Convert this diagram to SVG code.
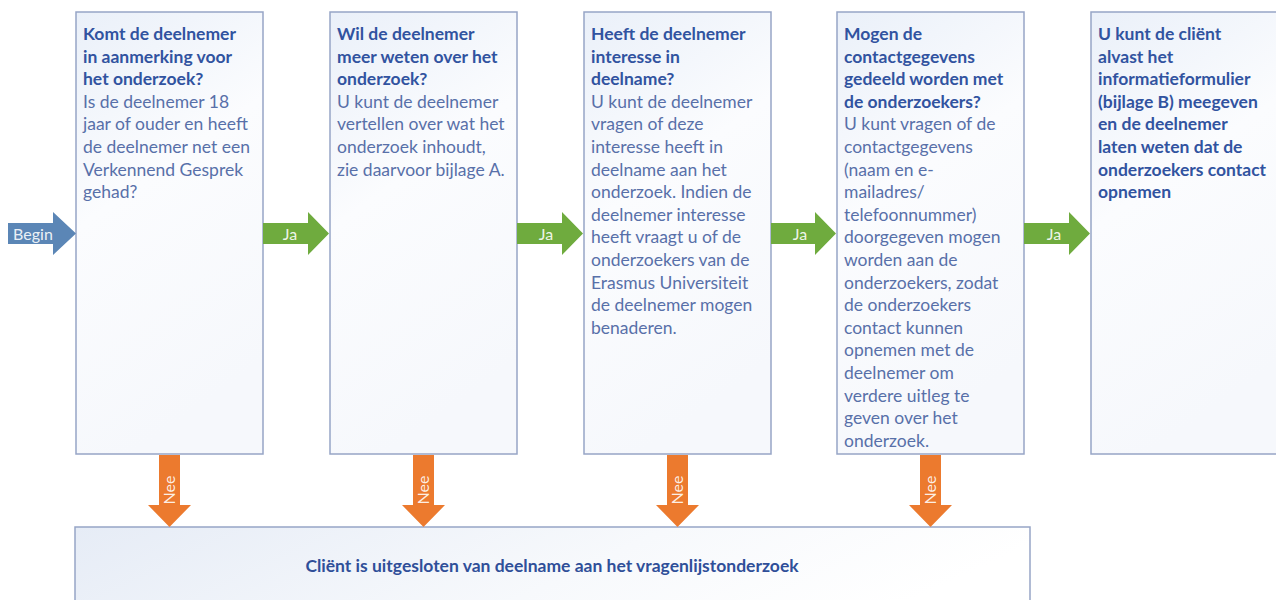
<svg xmlns="http://www.w3.org/2000/svg" width="1276" height="600" viewBox="0 0 1276 600">
<defs>
<linearGradient id="boxFill" x1="0" y1="0" x2="0.3" y2="1">
<stop offset="0" stop-color="#eaf0f9"/>
<stop offset="0.45" stop-color="#fbfcfe"/>
<stop offset="1" stop-color="#f6f8fc"/>
</linearGradient>
<linearGradient id="bottomFill" x1="0" y1="0" x2="1" y2="0.2">
<stop offset="0" stop-color="#e6ecf6"/>
<stop offset="0.6" stop-color="#f7f9fc"/>
<stop offset="1" stop-color="#ffffff"/>
</linearGradient>
<style>
.box{fill:url(#boxFill);stroke:#97a5c6;stroke-width:1.5}
.bottom{fill:url(#bottomFill);stroke:#97a5c6;stroke-width:1.5}
text{font-family:Lato,"Liberation Sans",sans-serif;font-size:17.5px}
.h{font-weight:bold;fill:#3153a0}
.b{fill:#5870a9}
.begin{fill:#5b86b6}
.ja{fill:#6fab3e}
.nee{fill:#ec7a2e}
.lbl{fill:#ffffff;font-size:16px;fill-opacity:0.9}
.main{font-weight:bold;fill:#2f4f99;font-size:17.5px}
</style>
</defs>
<rect width="1276" height="600" fill="#ffffff"/>

<g id="node1">
<rect class="box" x="76" y="12" width="187" height="442"/>
<text x="83" y="40">
<tspan class="h" x="83">Komt de deelnemer</tspan>
<tspan class="h" x="83" dy="22.6">in aanmerking voor</tspan>
<tspan class="h" x="83" dy="22.6">het onderzoek?</tspan>
<tspan class="b" x="83" dy="22.6">Is de deelnemer 18</tspan>
<tspan class="b" x="83" dy="22.6">jaar of ouder en heeft</tspan>
<tspan class="b" x="83" dy="22.6">de deelnemer net een</tspan>
<tspan class="b" x="83" dy="22.6">Verkennend Gesprek</tspan>
<tspan class="b" x="83" dy="22.6">gehad?</tspan>
</text>
</g>

<g id="node2">
<rect class="box" x="330" y="12" width="187" height="442"/>
<text x="337" y="40">
<tspan class="h" x="337">Wil de deelnemer</tspan>
<tspan class="h" x="337" dy="22.6">meer weten over het</tspan>
<tspan class="h" x="337" dy="22.6">onderzoek?</tspan>
<tspan class="b" x="337" dy="22.6">U kunt de deelnemer</tspan>
<tspan class="b" x="337" dy="22.6">vertellen over wat het</tspan>
<tspan class="b" x="337" dy="22.6">onderzoek inhoudt,</tspan>
<tspan class="b" x="337" dy="22.6">zie daarvoor bijlage A.</tspan>
</text>
</g>

<g id="node3">
<rect class="box" x="584" y="12" width="187" height="442"/>
<text x="591" y="40">
<tspan class="h" x="591">Heeft de deelnemer</tspan>
<tspan class="h" x="591" dy="22.6">interesse in</tspan>
<tspan class="h" x="591" dy="22.6">deelname?</tspan>
<tspan class="b" x="591" dy="22.6">U kunt de deelnemer</tspan>
<tspan class="b" x="591" dy="22.6">vragen of deze</tspan>
<tspan class="b" x="591" dy="22.6">interesse heeft in</tspan>
<tspan class="b" x="591" dy="22.6">deelname aan het</tspan>
<tspan class="b" x="591" dy="22.6">onderzoek. Indien de</tspan>
<tspan class="b" x="591" dy="22.6">deelnemer interesse</tspan>
<tspan class="b" x="591" dy="22.6">heeft vraagt u of de</tspan>
<tspan class="b" x="591" dy="22.6">onderzoekers van de</tspan>
<tspan class="b" x="591" dy="22.6">Erasmus Universiteit</tspan>
<tspan class="b" x="591" dy="22.6">de deelnemer mogen</tspan>
<tspan class="b" x="591" dy="22.6">benaderen.</tspan>
</text>
</g>

<g id="node4">
<rect class="box" x="837" y="12" width="187" height="442"/>
<text x="844" y="40">
<tspan class="h" x="844">Mogen de</tspan>
<tspan class="h" x="844" dy="22.6">contactgegevens</tspan>
<tspan class="h" x="844" dy="22.6">gedeeld worden met</tspan>
<tspan class="h" x="844" dy="22.6">de onderzoekers?</tspan>
<tspan class="b" x="844" dy="22.6">U kunt vragen of de</tspan>
<tspan class="b" x="844" dy="22.6">contactgegevens</tspan>
<tspan class="b" x="844" dy="22.6">(naam en e-</tspan>
<tspan class="b" x="844" dy="22.6">mailadres/</tspan>
<tspan class="b" x="844" dy="22.6">telefoonnummer)</tspan>
<tspan class="b" x="844" dy="22.6">doorgegeven mogen</tspan>
<tspan class="b" x="844" dy="22.6">worden aan de</tspan>
<tspan class="b" x="844" dy="22.6">onderzoekers, zodat</tspan>
<tspan class="b" x="844" dy="22.6">de onderzoekers</tspan>
<tspan class="b" x="844" dy="22.6">contact kunnen</tspan>
<tspan class="b" x="844" dy="22.6">opnemen met de</tspan>
<tspan class="b" x="844" dy="22.6">deelnemer om</tspan>
<tspan class="b" x="844" dy="22.6">verdere uitleg te</tspan>
<tspan class="b" x="844" dy="22.6">geven over het</tspan>
<tspan class="b" x="844" dy="22.6">onderzoek.</tspan>
</text>
</g>

<g id="node5">
<rect class="box" x="1091" y="12" width="190" height="442"/>
<text x="1098" y="40">
<tspan class="h" x="1098">U kunt de cliënt</tspan>
<tspan class="h" x="1098" dy="22.6">alvast het</tspan>
<tspan class="h" x="1098" dy="22.6">informatieformulier</tspan>
<tspan class="h" x="1098" dy="22.6">(bijlage B) meegeven</tspan>
<tspan class="h" x="1098" dy="22.6">en de deelnemer</tspan>
<tspan class="h" x="1098" dy="22.6">laten weten dat de</tspan>
<tspan class="h" x="1098" dy="22.6">onderzoekers contact</tspan>
<tspan class="h" x="1098" dy="22.6">opnemen</tspan>
</text>
</g>

<g id="node6">
<rect class="bottom" x="75" y="527" width="955" height="90"/>
<text class="main" x="552" y="572" text-anchor="middle">Cliënt is uitgesloten van deelname aan het vragenlijstonderzoek</text>
</g>

<g id="connectors">
<polygon class="begin" points="8,223 53,223 53,212 76,233.5 53,255 53,244 8,244"/>
<text class="lbl" x="33" y="239.5" text-anchor="middle">Begin</text>

<polygon class="ja" points="263,223 308,223 308,212 329,233.5 308,255 308,244 263,244"/>
<text class="lbl" x="290" y="239.5" text-anchor="middle">Ja</text>
<polygon class="ja" points="517,223 562,223 562,212 583,233.5 562,255 562,244 517,244"/>
<text class="lbl" x="546" y="239.5" text-anchor="middle">Ja</text>
<polygon class="ja" points="771,223 815,223 815,212 836,233.5 815,255 815,244 771,244"/>
<text class="lbl" x="800" y="239.5" text-anchor="middle">Ja</text>
<polygon class="ja" points="1024,223 1069,223 1069,212 1090,233.5 1069,255 1069,244 1024,244"/>
<text class="lbl" x="1054" y="239.5" text-anchor="middle">Ja</text>

<polygon class="nee" points="159,455 180,455 180,505 191,505 169.5,527 148,505 159,505"/>
<text class="lbl" transform="translate(175,490) rotate(-90)" text-anchor="middle">Nee</text>
<polygon class="nee" points="413,455 434,455 434,505 445,505 423.5,527 402,505 413,505"/>
<text class="lbl" transform="translate(429,490) rotate(-90)" text-anchor="middle">Nee</text>
<polygon class="nee" points="667,455 688,455 688,505 699,505 677.5,527 656,505 667,505"/>
<text class="lbl" transform="translate(683,490) rotate(-90)" text-anchor="middle">Nee</text>
<polygon class="nee" points="920,455 941,455 941,505 952,505 930.5,527 909,505 920,505"/>
<text class="lbl" transform="translate(936,490) rotate(-90)" text-anchor="middle">Nee</text>
</g>
</svg>
